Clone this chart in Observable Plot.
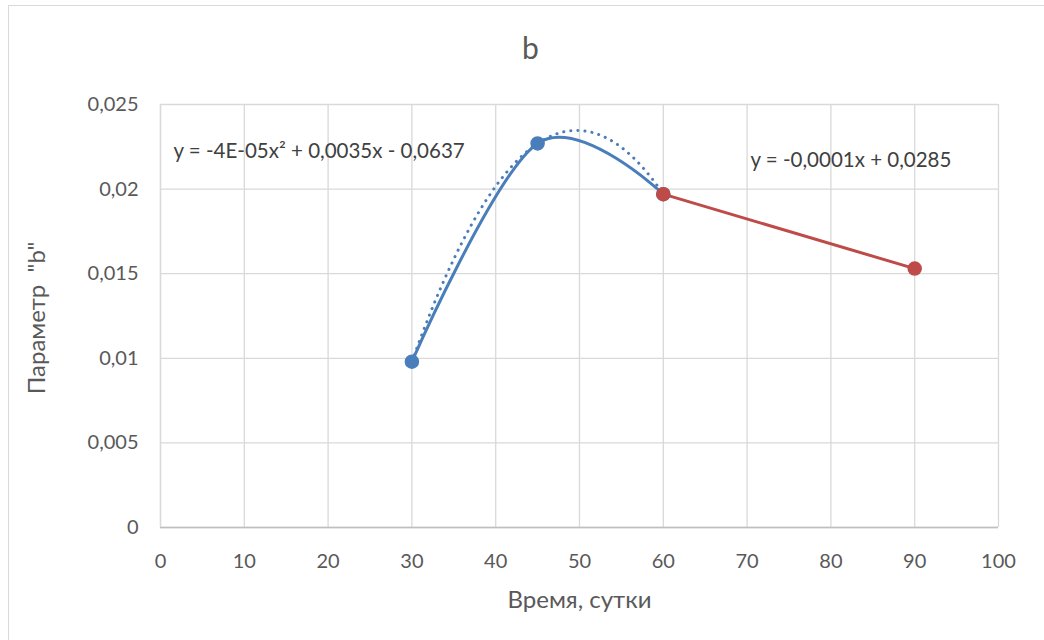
<!DOCTYPE html>
<html>
<head>
<meta charset="utf-8">
<script src="https://cdn.jsdelivr.net/npm/d3@7"></script>
<script src="https://cdn.jsdelivr.net/npm/@observablehq/plot@0.6"></script>
<style>
  html, body { margin: 0; padding: 0; background: #fff; }
  #wrap { position: relative; width: 1044px; height: 640px; overflow: hidden; }
  #frame { position: absolute; left: 8px; top: 5px; width: 1060px; height: 700px; border: 1px solid #d9d9d9; box-sizing: border-box; }
  #chart { position: absolute; left: 0; top: 0; }
  #chart text { white-space: pre; }
</style>
</head>
<body>
<div id="wrap"><div id="frame"></div><div id="chart"></div></div>
<script>
// Data
const blueX = [30, 45, 60];
const blueY = [0.0098, 0.0227, 0.0197];
const redX = [60, 90];
const redY = [0.0197, 0.0153];
const xTicks = [0, 10, 20, 30, 40, 50, 60, 70, 80, 90, 100];
const yTicks = [0, 0.005, 0.01, 0.015, 0.02, 0.025];
const titleText = "b";
const xLabel = "Время, сутки";
const yLabel = "Параметр \u00a0\"b\"";
const eqBlue = "y = -4E-05x² + 0,0035x - 0,0637";
const eqRed = "y = -0,0001x + 0,0285";

const blue = blueX.map((x, i) => ({x, y: blueY[i]}));
const red = redX.map((x, i) => ({x, y: redY[i]}));

// Polynomial (order 2) trendline fitted to the blue series by least squares
function polyFit2(xs, ys) {
  let S = [[0,0,0],[0,0,0],[0,0,0]], T = [0,0,0];
  xs.forEach((x, k) => {
    const p = [1, x, x*x];
    for (let i = 0; i < 3; i++) { T[i] += p[i]*ys[k]; for (let j = 0; j < 3; j++) S[i][j] += p[i]*p[j]; }
  });
  const A = S.map((r, i) => [...r, T[i]]);
  for (let i = 0; i < 3; i++) {
    for (let k = i+1; k < 3; k++) {
      const f = A[k][i]/A[i][i];
      for (let j = i; j < 4; j++) A[k][j] -= f*A[i][j];
    }
  }
  const c = [0,0,0];
  for (let i = 2; i >= 0; i--) {
    let s = A[i][3];
    for (let j = i+1; j < 3; j++) s -= A[i][j]*c[j];
    c[i] = s/A[i][i];
  }
  return c;
}
const coef = polyFit2(blueX, blueY);
const trend = d3.range(blueX[0], blueX[blueX.length-1] + 0.01, 0.5).map(x => ({x, y: coef[0] + coef[1]*x + coef[2]*x*x}));

const fmt = d => d === 0 ? "0" : String(d).replace(".", ",");
const FONT = "Lato, 'Open Sans', sans-serif";
const BLUE = "#4a7ebb";
const RED = "#be4b48";

const chart = Plot.plot({
  width: 1044,
  height: 640,
  marginLeft: 160,
  marginRight: 46,
  marginTop: 104,
  marginBottom: 113,
  style: { fontFamily: FONT, fontSize: "20px", color: "#595959", background: "transparent" },
  x: { domain: [0, 100], ticks: xTicks, tickFormat: fmt, label: null },
  y: { domain: [0, 0.025], ticks: yTicks, tickFormat: fmt, label: null },
  marks: [
    Plot.gridX(xTicks, { stroke: "#d9d9d9", strokeOpacity: 1, strokeWidth: 1.3 }),
    Plot.gridY(yTicks, { stroke: "#d9d9d9", strokeOpacity: 1, strokeWidth: 1.3 }),
    Plot.ruleY([0], { stroke: "#bfbfbf", strokeWidth: 1.3 }),
    Plot.ruleX([0], { stroke: "#d9d9d9", strokeWidth: 1.3 }),
    Plot.axisX(xTicks, { tickSize: 0, tickPadding: 26, tickFormat: fmt, fontSize: 20, fill: "#595959", label: null }),
    Plot.axisY(yTicks, { tickSize: 0, tickPadding: 22, tickFormat: fmt, fontSize: 20, fill: "#595959", label: null }),
    Plot.line(trend, { x: "x", y: "y", stroke: BLUE, strokeWidth: 3, strokeDasharray: "0.1,7", strokeLinecap: "round" }),
    Plot.line(blue, { x: "x", y: "y", stroke: BLUE, strokeWidth: 3, curve: "cardinal" }),
    Plot.line(red, { x: "x", y: "y", stroke: RED, strokeWidth: 3 }),
    Plot.dot(blue, { x: "x", y: "y", r: 6.5, fill: BLUE, stroke: BLUE }),
    Plot.dot(red, { x: "x", y: "y", r: 6.5, fill: RED, stroke: RED }),
    Plot.text([eqBlue], { frameAnchor: "top-left", dx: 13, dy: 47, text: d => d, fontSize: 20.5, fill: "#404040", textAnchor: "start", lineAnchor: "middle" }),
    Plot.text([eqRed], { frameAnchor: "top-left", dx: 590, dy: 56, text: d => d, fontSize: 20.5, fill: "#404040", textAnchor: "start", lineAnchor: "middle" }),
    Plot.text([titleText], { frameAnchor: "top", dx: -49, dy: -55, text: d => d, fontSize: 30, fill: "#595959", lineAnchor: "middle" }),
    Plot.text([xLabel], { frameAnchor: "bottom", dy: 73, text: d => d, fontSize: 24, fill: "#595959", lineAnchor: "middle" }),
    Plot.text([yLabel], { frameAnchor: "left", dx: -123, dy: 2, text: d => d, fontSize: 24, fill: "#595959", rotate: -90, textAnchor: "middle", lineAnchor: "middle" })
  ]
});
document.getElementById("chart").appendChild(chart);
</script>
</body>
</html>
